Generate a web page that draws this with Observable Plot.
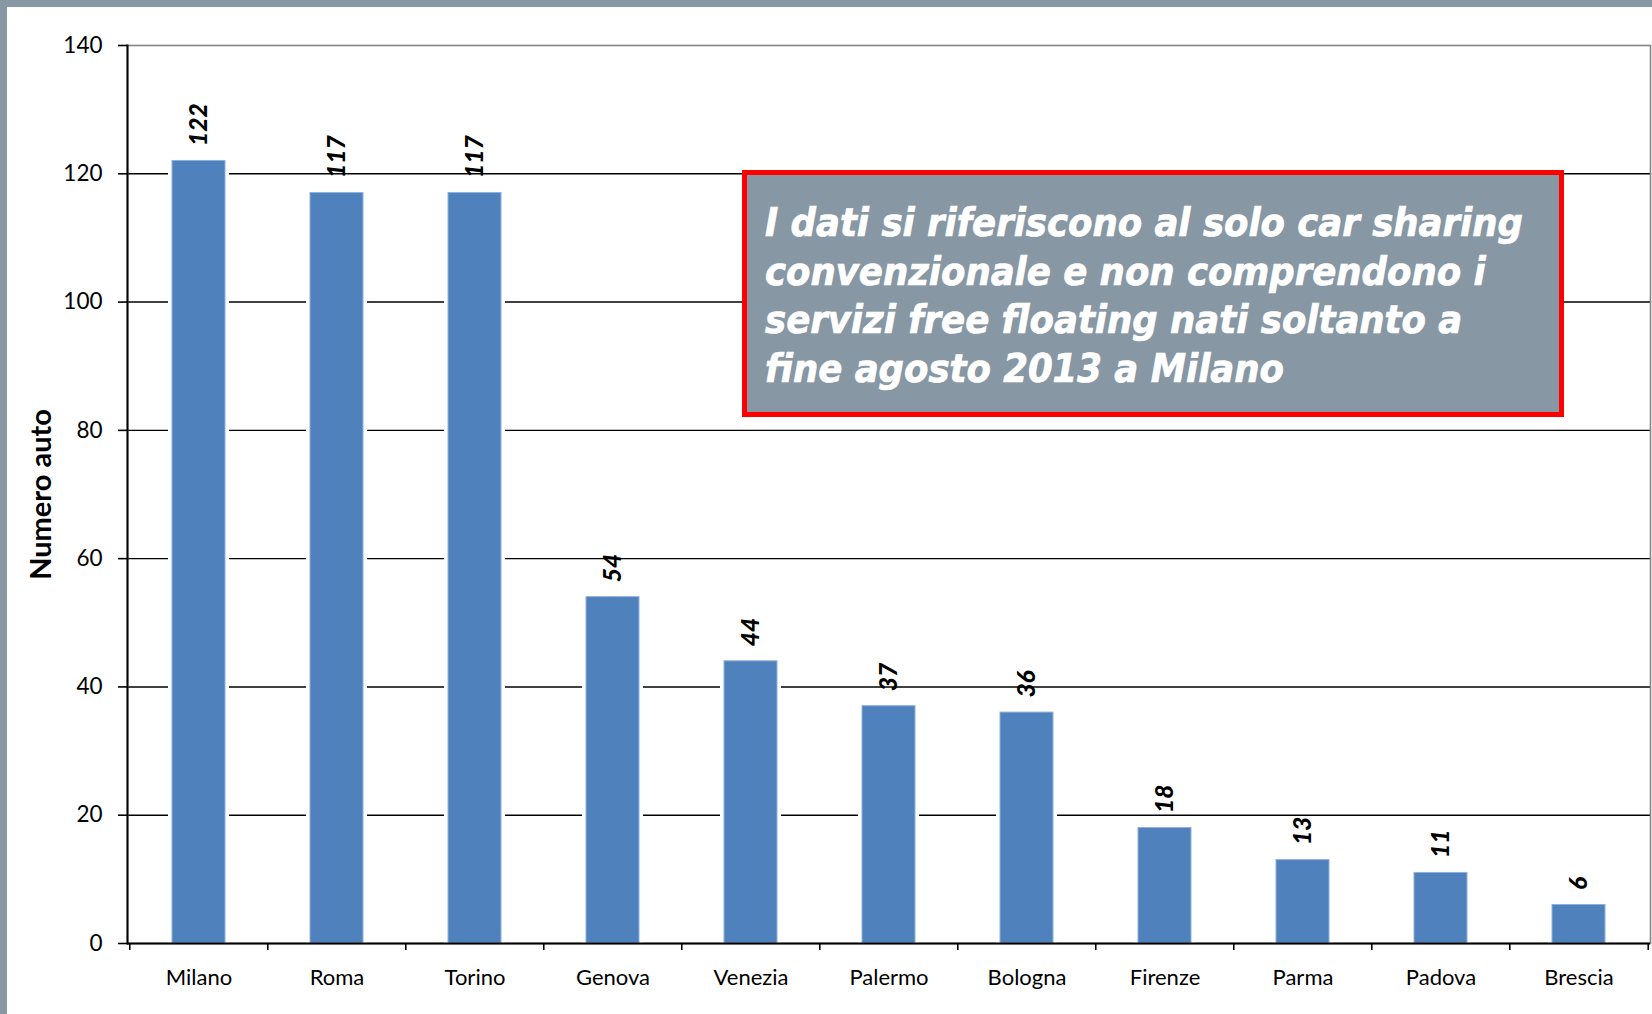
<!DOCTYPE html>
<html>
<head>
<meta charset="utf-8">
<script src="https://cdn.jsdelivr.net/npm/d3@7"></script>
<script src="https://cdn.jsdelivr.net/npm/@observablehq/plot@0.6"></script>
<style>
  html, body { margin: 0; padding: 0; }
  body { width: 1652px; height: 1014px; background: #8797a4; position: relative; overflow: hidden; }
  #card { position: absolute; left: 7px; top: 7px; width: 1645px; height: 1007px; background: white; }
  #note {
    position: absolute; left: 742px; top: 170px; width: 812px; height: 237px;
    border: 5px solid #ff0000; background: #8797a4; color: white;
    font-family: "DejaVu Sans Condensed", "DejaVu Sans"; font-weight: bold; font-style: italic;
    -webkit-text-stroke: 0.7px white;
    box-sizing: content-box; padding: 0;
  }
  #note div { position: absolute; left: 18px; white-space: nowrap; }
</style>
</head>
<body>
<div id="card"></div>
<script>
const categories = ["Milano", "Roma", "Torino", "Genova", "Venezia", "Palermo", "Bologna", "Firenze", "Parma", "Padova", "Brescia"];
const values = [122, 117, 117, 54, 44, 37, 36, 18, 13, 11, 6];
const yTicks = [0, 20, 40, 60, 80, 100, 120, 140];
const yLabel = "Numero auto";
const noteLines = [
  "I dati si riferiscono al solo car sharing",
  "convenzionale e non comprendono i",
  "servizi free floating nati soltanto a",
  "fine agosto 2013 a Milano"
];

const data = categories.map((c, i) => ({city: c, value: values[i]}));

const W = 1645, H = 1007, mL = 120, mR = 2, mT = 38, mB = 71;
const step = (W - mL - mR) / categories.length;

const chart = Plot.plot({
  width: W, height: H,
  marginLeft: mL, marginRight: mR, marginTop: mT, marginBottom: mB,
  style: {fontFamily: "Lato", fontSize: "22px", color: "black", background: "white", overflow: "visible"},
  x: {domain: categories, paddingInner: 0.615, paddingOuter: 0.3075, label: null},
  y: {domain: [0, 140], label: null},
  marks: [
    Plot.ruleY(yTicks.filter(t => t > 0 && t < 140), {stroke: "black", strokeWidth: 1.4}),
    Plot.frame({stroke: "#858585", strokeWidth: 1.6}),
    Plot.barY(data, {x: "city", y: "value", fill: "white", insetLeft: -4, insetRight: -4, insetTop: -4}),
    Plot.barY(data, {x: "city", y: "value", fill: "#4f81bd", stroke: "#8fb0da", strokeWidth: 1}),
    Plot.ruleY([0], {stroke: "black", strokeWidth: 2}),
    Plot.frame({anchor: "left", stroke: "black", strokeWidth: 2}),
    Plot.axisY({ticks: yTicks, tickSize: 9, tickPadding: 16, strokeWidth: 1.6, fontSize: 22.5, label: null}),
    Plot.axisX({tickSize: 0, tickPadding: 26, fontSize: 22, label: null}),
    Plot.axisX({tickSize: 7, text: null, dx: -step / 2, strokeWidth: 1.6, label: null}),
    Plot.axisX({ticks: [categories[categories.length - 1]], tickSize: 7, text: null, dx: step / 2, strokeWidth: 1.6, label: null}),
    Plot.text(data, {x: "city", y: "value", text: d => String(d.value), rotate: -90, textAnchor: "start", lineAnchor: "middle", dy: -15, fontWeight: "900", fontStyle: "italic", fontSize: 24.5, fill: "black"}),
    Plot.text([yLabel], {frameAnchor: "left", text: d => d, rotate: -90, textAnchor: "middle", lineAnchor: "middle", dx: -86, fontWeight: "bold", fontSize: 29, fill: "black"})
  ]
});
document.getElementById("card").appendChild(chart);

// annotation box
const note = document.createElement("div");
note.id = "note";
document.body.appendChild(note);
const ctx = document.createElement("canvas").getContext("2d");
ctx.font = "italic bold 100px 'DejaVu Sans Condensed'";
const w100 = ctx.measureText(noteLines[0]).width;
const fs = 100 * 758 / w100;
note.style.fontSize = fs.toFixed(2) + "px";
noteLines.forEach((t, i) => {
  const d = document.createElement("div");
  d.textContent = t;
  d.style.top = (23 + i * 48.5) + "px";
  d.style.lineHeight = "48.5px";
  note.appendChild(d);
});
</script>
</body>
</html>
